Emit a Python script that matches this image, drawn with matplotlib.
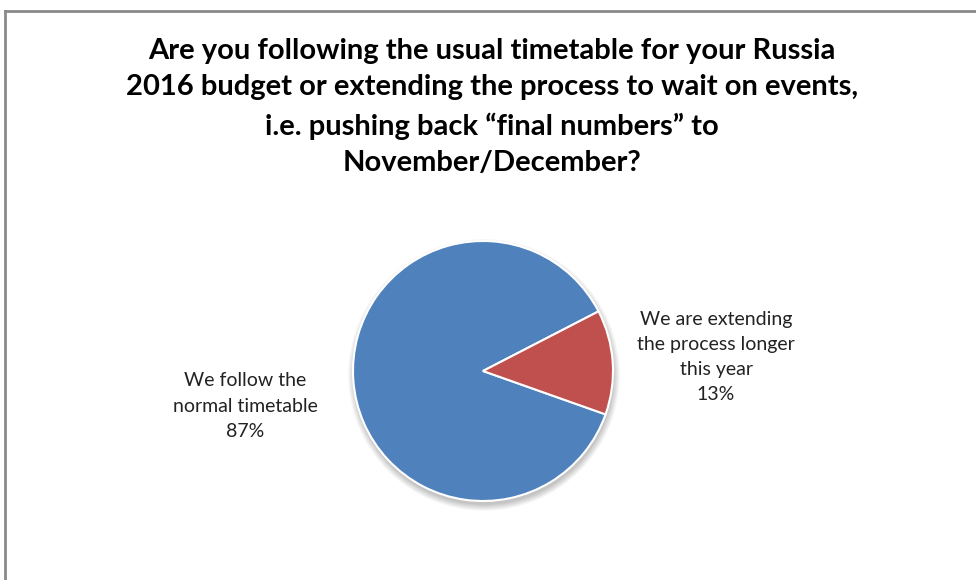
import matplotlib
matplotlib.use("Agg")
import matplotlib.pyplot as plt
from matplotlib.patches import Circle
from matplotlib.lines import Line2D

title = ("Are you following the usual timetable for your Russia\n"
         "2016 budget or extending the process to wait on events,\n"
         "i.e. pushing back \u201cfinal numbers\u201d to\n"
         "November/December?")
categories = ["We follow the\nnormal timetable", "We are extending\nthe process longer\nthis year"]
shares = [87, 13]
colors = ["#4F81BD", "#C0504D"]

W, H = 976, 580
fig = plt.figure(figsize=(W / 100, H / 100), dpi=100)
ax = fig.add_axes([0, 0, 1, 1])

font = "Lato"

# chart frame (top and left edges)
ax.add_line(Line2D([5, W], [H - 11, H - 11], color="#8a8a8a", lw=2))
ax.add_line(Line2D([5, 5], [0, H - 11], color="#8a8a8a", lw=2))

ax.text(492, H - 107, title, ha="center", va="center", fontsize=21,
        fontweight="bold", family=font, linespacing=1.52, color="black")

cx, cy, r = 483, H - 371, 130

# soft drop shadow under the pie
for i in range(12):
    ax.add_patch(Circle((cx + 1, cy - 4), r + 6 - i * 0.6, color="black",
                        alpha=0.018, lw=0, zorder=1))

wedges, _ = ax.pie(shares, colors=colors, startangle=340.5, counterclock=False,
                   center=(cx, cy), radius=r,
                   wedgeprops=dict(edgecolor="white", linewidth=1.5))
for w in wedges:
    w.set_zorder(2)
ax.set_xlim(0, W)
ax.set_ylim(0, H)
ax.set_aspect("equal")
ax.axis("off")

ax.text(245, H - 406, f"{categories[0]}\n{shares[0]}%", ha="center", va="center",
        fontsize=14, family=font, linespacing=1.62, color="#222222")
ax.text(716, H - 357, f"{categories[1]}\n{shares[1]}%", ha="center", va="center",
        fontsize=14, family=font, linespacing=1.58, color="#222222")

fig.savefig("out.png", dpi=100, facecolor="white")
